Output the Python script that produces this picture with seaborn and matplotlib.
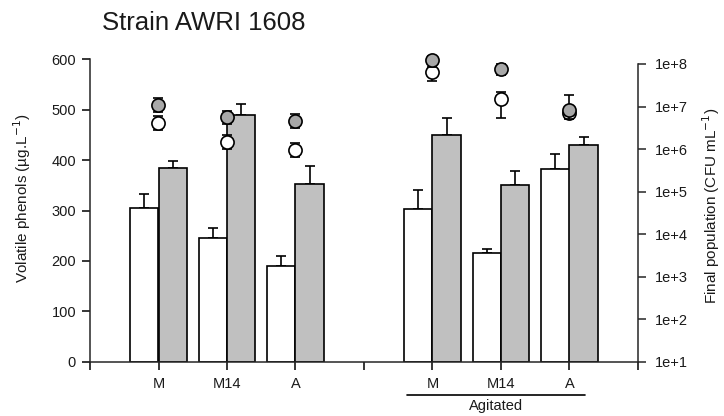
import numpy as np
import pandas as pd
import matplotlib
matplotlib.use("Agg")
import matplotlib.pyplot as plt
import seaborn as sns
from matplotlib.ticker import FixedLocator, FuncFormatter, NullLocator
import matplotlib.transforms as mtransforms

# ---------------- data ----------------
treatments = ["M", "M14", "A"]
conditions = ["Static", "Agitated"]

phenol_white = [305, 246, 190, 303, 215, 382]
phenol_white_err = [28, 20, 20, 38, 9, 31]
phenol_gray = [385, 490, 353, 449, 350, 429]
phenol_gray_err = [13, 22, 36, 35, 28, 16]

cfu_white = [4.1e6, 1.45e6, 9.5e5, 6.6e7, 1.48e7, 7.0e6]
cfu_white_lo = [2.8e6, 1.0e6, 6.5e5, 3.9e7, 5.5e6, 5.5e6]
cfu_white_hi = [6.0e6, 2.1e6, 1.35e6, 7.5e7, 2.24e7, 9.0e6]
cfu_gray = [1.1e7, 5.6e6, 4.5e6, 1.26e8, 7.8e7, 8.3e6]
cfu_gray_lo = [7.5e6, 3.8e6, 3.1e6, 8.5e7, 5.5e7, 5.0e6]
cfu_gray_hi = [1.6e7, 8.0e6, 6.5e6, 1.5e8, 1.0e8, 1.9e7]

right_ticks = [1e1, 1e2, 1e3, 1e4, 1e5, 1e6, 1e7, 1e8]

# ---------------- layout helpers ----------------
n_t = len(treatments)
pos = [g * (n_t + 1) + t + 1 for g in range(len(conditions)) for t in range(n_t)]
labels = [treatments[t] for g in range(len(conditions)) for t in range(n_t)]
bar_width = 0.82
half = bar_width / 4

sns.set_style("ticks")
plt.rcParams["font.family"] = ["Liberation Sans", "DejaVu Sans"]
plt.rcParams["axes.linewidth"] = 1.1
txtc = "#1a1a1a"

fig = plt.figure(figsize=(7.24, 4.16), dpi=100)
ax = fig.add_axes([90 / 724, 1 - 361.7 / 416, 548 / 724, 302.4 / 416])

df = pd.DataFrame({
    "pos": pos + pos,
    "val": phenol_white + phenol_gray,
    "series": ["white"] * len(pos) + ["gray"] * len(pos),
})
sns.barplot(data=df, x="pos", y="val", hue="series", hue_order=["white", "gray"],
            palette={"white": "white", "gray": "#c0c0c0"}, native_scale=True,
            width=bar_width, edgecolor="black", linewidth=1.2, errorbar=None,
            legend=False, ax=ax, zorder=2)

xw = np.array(pos) - half
xg = np.array(pos) + half
ax.errorbar(xw, phenol_white, yerr=[np.zeros(len(pos)), phenol_white_err], fmt="none",
            ecolor="black", elinewidth=1.2, capsize=3.6, capthick=1.2, zorder=1)
ax.errorbar(xg, phenol_gray, yerr=[np.zeros(len(pos)), phenol_gray_err], fmt="none",
            ecolor="black", elinewidth=1.2, capsize=3.6, capthick=1.2, zorder=1)

ax.set_xlim(0, pos[-1] + 1)
ax.set_ylim(0, 600)
ax.set_xticks(range(0, pos[-1] + 2))
tick_labels = [""] * (pos[-1] + 2)
for p, l in zip(pos, labels):
    tick_labels[p] = l
ax.set_xticklabels(tick_labels)
ax.set_yticks([0, 100, 200, 300, 400, 500, 600])
ax.set_xlabel("")
ax.set_ylabel("Volatile phenols (µg.L$^{-1}$)", fontsize=11, color=txtc)
ax.yaxis.set_label_coords(-0.104, 0.54)
ax.tick_params(axis="both", direction="out", length=6, width=1.1, labelsize=10.5,
               colors="black", labelcolor=txtc)
ax.tick_params(axis="x", pad=5)
ax.tick_params(axis="y", pad=4)
for s in ["top", "right"]:
    ax.spines[s].set_visible(False)

# ---------------- right axis ----------------
ax2 = ax.twinx()
ax2.set_yscale("log")
ax2.set_ylim(10, 10 ** 8.11)
for s in ["top", "left", "bottom"]:
    ax2.spines[s].set_visible(False)
ax2.spines["right"].set_bounds(right_ticks[0], right_ticks[-1])
ax2.yaxis.set_major_locator(FixedLocator(right_ticks))
ax2.yaxis.set_minor_locator(NullLocator())
ax2.yaxis.set_major_formatter(FuncFormatter(lambda v, p: "1e+%d" % round(np.log10(v))))
ax2.tick_params(axis="y", direction="out", length=6, width=1.1, labelsize=10.5,
                pad=6, labelcolor=txtc)
ax2.set_ylabel("Final population (CFU mL$^{-1}$)", fontsize=11, color=txtc)
ax2.yaxis.set_label_coords(1.113, 0.515)

cw = np.array(cfu_white)
cg = np.array(cfu_gray)
ax2.errorbar(pos, cw, yerr=[cw - np.array(cfu_white_lo), np.array(cfu_white_hi) - cw],
             fmt="none", ecolor="black", elinewidth=1.2, capsize=3.6, capthick=1.2,
             zorder=3, clip_on=False)
cdf = pd.DataFrame({"pos": pos, "cfu": cfu_white})
sns.scatterplot(data=cdf, x="pos", y="cfu", ax=ax2, s=90, color="white",
                edgecolor="black", linewidth=1.2, zorder=4, clip_on=False, legend=False)
ax2.errorbar(pos, cg, yerr=[cg - np.array(cfu_gray_lo), np.array(cfu_gray_hi) - cg],
             fmt="none", ecolor="black", elinewidth=1.2, capsize=3.6, capthick=1.2,
             zorder=5, clip_on=False)
gdf = pd.DataFrame({"pos": pos, "cfu": cfu_gray})
sns.scatterplot(data=gdf, x="pos", y="cfu", ax=ax2, s=90, color="#a8a8a8",
                edgecolor="black", linewidth=1.2, zorder=6, clip_on=False, legend=False)
ax2.set_xlim(0, pos[-1] + 1)
ax2.set_xlabel("")

# ---------------- group annotation ----------------
trans = mtransforms.blended_transform_factory(ax.transData, ax.transAxes)
ag = [p for p, g in zip(pos, [c for c in conditions for _ in range(n_t)]) if g == "Agitated"]
ax.plot([ag[0] - 0.37, ag[-1] + 0.23], [-0.11, -0.11], color="black", lw=1.2,
        transform=trans, clip_on=False)
ax.text((ag[0] + ag[-1]) / 2 - 0.07, -0.145, "Agitated", transform=trans, ha="center",
        va="center", fontsize=10.5, color=txtc)

fig.text(102 / 724, 1 - 23 / 416, "Strain AWRI 1608", fontsize=18.5, ha="left",
         va="center", color=txtc)

fig.savefig("out.png", dpi=100)
